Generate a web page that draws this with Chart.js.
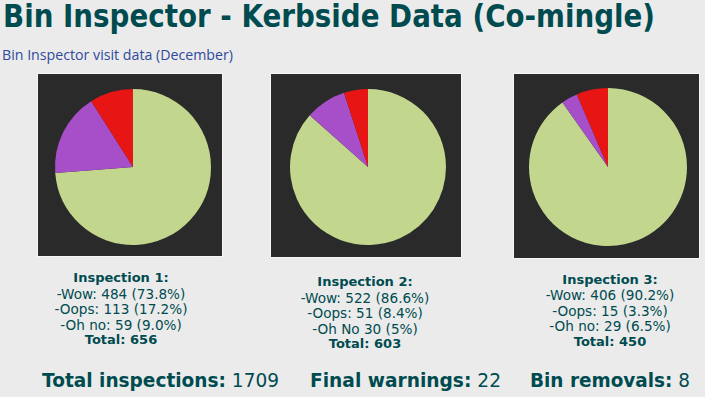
<!DOCTYPE html>
<html>
<head>
<meta charset="utf-8">
<script src="https://cdn.jsdelivr.net/npm/chart.js@4/dist/chart.umd.min.js"></script>
<style>
  body { margin: 0; background: #ebebeb; }
  #page { position: relative; width: 705px; height: 397px; overflow: hidden; background: #ebebeb; color: #004b50; }
  .abs { position: absolute; white-space: nowrap; }
  .fit { transform-origin: left center; }
  #title { left: 3px; top: 0px; font: bold 32px "DejaVu Sans"; line-height: 32px; color: #004b50; }
  #subtitle { left: 2px; top: 47px; font: 14px "Open Sans"; line-height: 16px; color: #2e4a9b; }
  .panel { position: absolute; background: #2a2a2a; outline: 1px solid #f6f6f6; }
  .block { position: absolute; width: 220px; text-align: center; color: #004b50; }
  .block div { height: 15.5px; line-height: 15.5px; white-space: nowrap; }
  .block .reg { font: 13.6px "DejaVu Sans"; }
  .block .bold { font: bold 13px "DejaVu Sans"; }
  .foot { top: 368px; font: 20px "DejaVu Sans"; line-height: 24px; color: #004b50; }
</style>
</head>
<body>
<div id="page">
  <div id="title" class="abs fit" data-w="652">Bin Inspector - Kerbside Data (Co-mingle)</div>
  <div id="subtitle" class="abs fit" data-w="231">Bin Inspector visit data (December)</div>
  <div id="panels"></div>
  <div id="blocks"></div>
  <div id="footer"></div>
</div>
<script>
// slice names and values per inspection (Wow, Oops, Oh no)
var labels = ['Wow', 'Oops', 'Oh no'];
var inspection1 = [484, 113, 59];
var inspection2 = [522, 51, 30];
var inspection3 = [406, 15, 29];
var colors = ['#c2d68e', '#a74fc9', '#e81515'];

// text under each pie, as written on the slide
var heads = ['Inspection 1:', 'Inspection 2:', 'Inspection 3:'];
var lines1 = ['-Wow: 484 (73.8%)', '-Oops: 113 (17.2%)', '-Oh no: 59 (9.0%)'];
var lines2 = ['-Wow: 522 (86.6%)', '-Oops: 51 (8.4%)', '-Oh No 30 (5%)'];
var lines3 = ['-Wow: 406 (90.2%)', '-Oops: 15 (3.3%)', '-Oh no: 29 (6.5%)'];
var totals = [656, 603, 450];

var footLabels = ['Total inspections:', 'Final warnings:', 'Bin removals:'];
var footValues = [1709, 22, 8];

// layout: panel boxes and pie padding so the pies land where they are in the slide
var panels = [
  { left: 38, top: 74, w: 184, h: 182, pad: { left: 17, right: 11, top: 15, bottom: 11 } },
  { left: 271, top: 74, w: 190, h: 183, pad: { left: 19, right: 15, top: 15, bottom: 12 } },
  { left: 514, top: 74, w: 185, h: 184, pad: { left: 15, right: 12, top: 14, bottom: 12 } }
];
var blockPos = [{ cx: 121, top: 270 }, { cx: 365, top: 274 }, { cx: 610, top: 271.5 }];
var footPos = [{ left: 42, w: 237 }, { left: 310, w: 191 }, { left: 530, w: 160 }];

var series = [inspection1, inspection2, inspection3];
var textLines = [lines1, lines2, lines3];

panels.forEach(function(p, i) {
  var box = document.createElement('div');
  box.className = 'panel';
  box.style.left = p.left + 'px';
  box.style.top = p.top + 'px';
  box.style.width = p.w + 'px';
  box.style.height = p.h + 'px';
  var cv = document.createElement('canvas');
  cv.width = p.w;
  cv.height = p.h;
  box.appendChild(cv);
  document.getElementById('panels').appendChild(box);

  new Chart(cv.getContext('2d'), {
    type: 'pie',
    data: {
      labels: labels,
      datasets: [{
        data: series[i],
        backgroundColor: colors,
        borderWidth: 0
      }]
    },
    options: {
      responsive: false,
      animation: false,
      layout: { padding: p.pad },
      plugins: { legend: { display: false }, tooltip: { enabled: false } }
    }
  });

  var b = document.createElement('div');
  b.className = 'block';
  b.style.left = (blockPos[i].cx - 110) + 'px';
  b.style.top = blockPos[i].top + 'px';
  var html = '<div class="bold">' + heads[i] + '</div>';
  textLines[i].forEach(function(t) { html += '<div class="reg">' + t + '</div>'; });
  html += '<div class="bold">Total: ' + totals[i] + '</div>';
  b.innerHTML = html;
  document.getElementById('blocks').appendChild(b);

  var f = document.createElement('div');
  f.className = 'abs foot fit';
  f.style.left = footPos[i].left + 'px';
  f.setAttribute('data-w', footPos[i].w);
  f.innerHTML = '<b>' + footLabels[i] + '</b> ' + footValues[i];
  document.getElementById('footer').appendChild(f);
});

// squeeze the wide fallback fonts to the widths in the slide
document.querySelectorAll('.fit').forEach(function(el) {
  var target = parseFloat(el.getAttribute('data-w'));
  var actual = el.getBoundingClientRect().width;
  if (actual > 0) el.style.transform = 'scaleX(' + (target / actual) + ')';
});
</script>
</body>
</html>
